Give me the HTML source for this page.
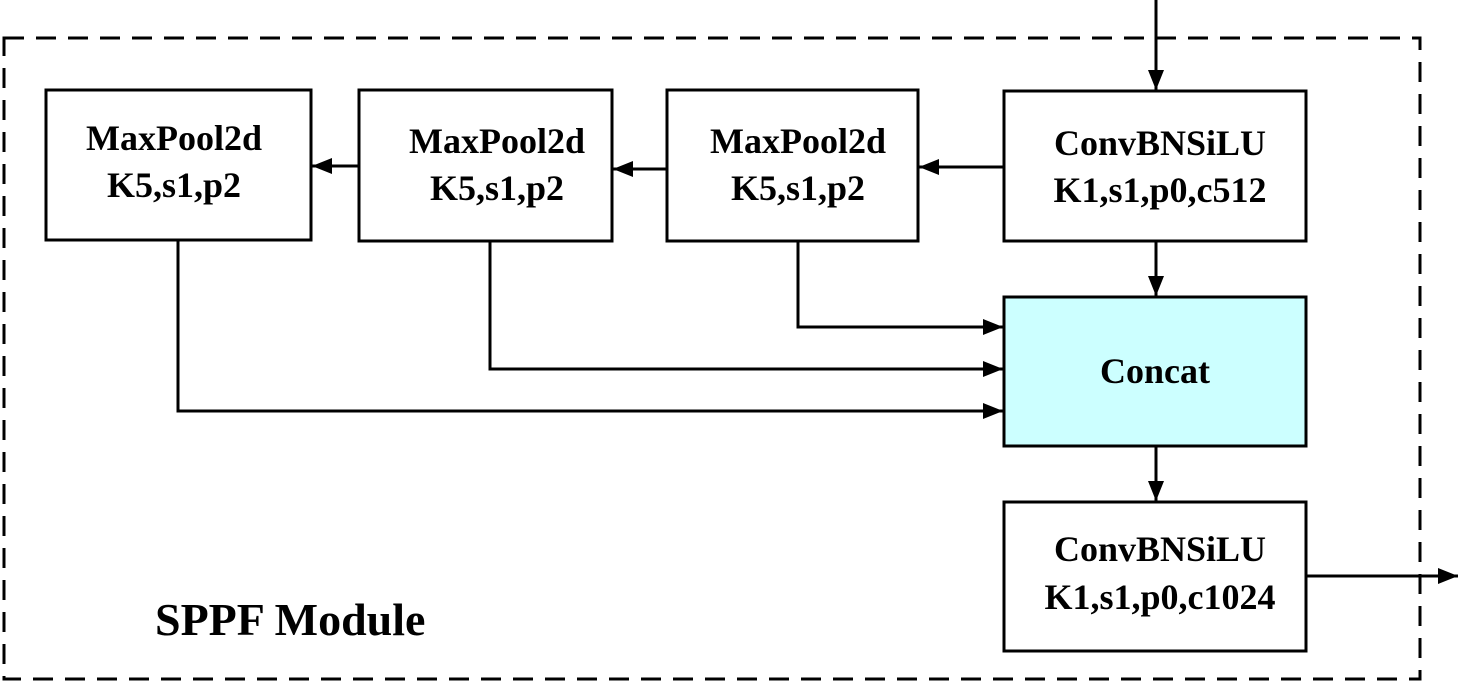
<!DOCTYPE html>
<html><head><meta charset="utf-8"><style>
html,body{margin:0;padding:0;background:#fff;width:1460px;height:682px;overflow:hidden}
svg text{font-family:"Liberation Serif",serif;font-weight:bold;fill:#000}
</style></head><body>
<svg width="1460" height="682" viewBox="0 0 1460 682" xmlns="http://www.w3.org/2000/svg">
<defs>
<marker id="b" viewBox="0 0 20 16" markerWidth="20" markerHeight="16" refX="20" refY="8" orient="auto" markerUnits="userSpaceOnUse"><path d="M0,0 L20,8 L0,16z"/></marker></defs>
<rect x="4" y="38" width="1416" height="641" fill="none" stroke="#000" stroke-width="3" stroke-dasharray="20,12"/>
<g stroke="#000" stroke-width="3" fill="#fff">
<rect x="46" y="90" width="265" height="150"/>
<rect x="359" y="90" width="253" height="151"/>
<rect x="667" y="90" width="251" height="151"/>
<rect x="1004" y="91" width="302" height="150"/>
<rect x="1004" y="297" width="302" height="149" fill="#ccffff"/>
<rect x="1004" y="502" width="302" height="149"/>
</g>
<g stroke="#000" stroke-width="3" fill="none">
<line x1="1156" y1="0" x2="1156" y2="90" marker-end="url(#b)"/>
<line x1="1156" y1="241" x2="1156" y2="296" marker-end="url(#b)"/>
<line x1="1156" y1="446" x2="1156" y2="501" marker-end="url(#b)"/>
<line x1="1004" y1="167" x2="919" y2="167" marker-end="url(#b)"/>
<line x1="667" y1="169" x2="613" y2="169" marker-end="url(#b)"/>
<line x1="359" y1="166" x2="312" y2="166" marker-end="url(#b)"/>
<polyline points="798,241 798,327 1003,327" marker-end="url(#b)"/>
<polyline points="490,241 490,369 1003,369" marker-end="url(#b)"/>
<polyline points="178,240 178,411 1003,411" marker-end="url(#b)"/>
<line x1="1306" y1="576" x2="1458" y2="576" marker-end="url(#b)"/>
</g>
<g font-size="36" text-anchor="middle">
<text x="174" y="150">MaxPool2d</text><text x="174" y="197">K5,s1,p2</text>
<text x="497" y="153">MaxPool2d</text><text x="497" y="200">K5,s1,p2</text>
<text x="798" y="153">MaxPool2d</text><text x="798" y="200">K5,s1,p2</text>
<text x="1160" y="155">ConvBNSiLU</text><text x="1160" y="202">K1,s1,p0,c512</text>
<text x="1155" y="383">Concat</text>
<text x="1160" y="561">ConvBNSiLU</text><text x="1160" y="609">K1,s1,p0,c1024</text>
</g>
<text x="155" y="635" font-size="46">SPPF Module</text>
</svg>
</body></html>
